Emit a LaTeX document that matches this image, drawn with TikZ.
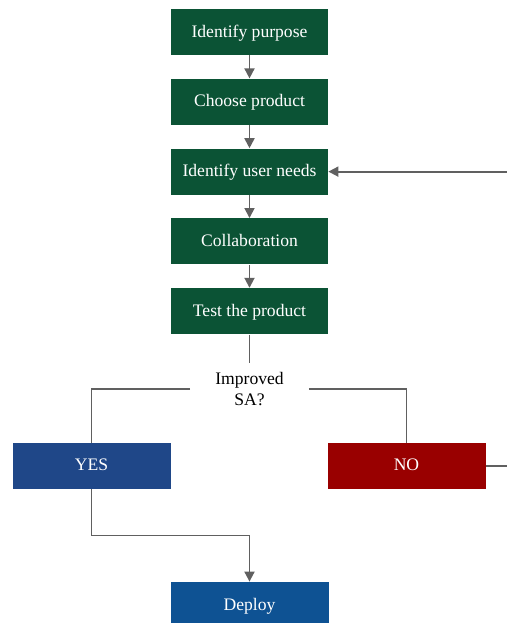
\documentclass[tikz,border=0pt]{standalone}
\usepackage{fontspec}
\setmainfont{Liberation Serif}
\usetikzlibrary{arrows.meta,positioning}
\definecolor{stepgreen}{HTML}{0B5335}
\definecolor{yesblue}{HTML}{1F4788}
\definecolor{nored}{HTML}{990000}
\definecolor{deployblue}{HTML}{0E5293}
\definecolor{linegrey}{HTML}{606060}

\begin{document}
\begin{tikzpicture}[x=0.5pt, y=-0.5pt,
      box/.style={fill=stepgreen, text=white, minimum width=78.5pt, minimum height=23pt,
                  inner sep=0pt, text depth=0.2ex, font=\fontsize{8.8}{10.5}\selectfont},
      answer/.style={box, minimum width=79pt},
      decision/.style={minimum width=59pt, minimum height=26pt, inner sep=0pt, align=center,
                       font=\fontsize{8.8}{10.5}\selectfont},
      arr/.style={-{Triangle[width=5pt,length=5pt]}, line width=0.9pt, linegrey},
      link/.style={line width=0.9pt, linegrey},
      node distance=11.5pt
    ]
      \useasboundingbox (0,0) rectangle (507,623);

      % Main chain
      \node[box] (purpose) at (249.5,32) {Identify purpose};
      \node[box, below=of purpose] (product) {Choose product};
      \node[box, below=of product] (needs) {Identify user needs};
      \node[box, below=of needs] (collab) {Collaboration};
      \node[box, below=of collab] (test) {Test the product};

      \draw[arr] (purpose) -- (product);
      \draw[arr] (product) -- (needs);
      \draw[arr] (needs) -- (collab);
      \draw[arr] (collab) -- (test);

      % Decision and answers
      \node[decision] (improved) at (249.5,389) {Improved\\SA?};
      \node[answer, fill=yesblue] (yes) at (91.5,466) {YES};
      \node[answer, fill=nored] (no) at (406.5,466) {NO};
      \node[answer, fill=deployblue] (deploy) at (249.5,605) {Deploy};

      \draw[link] (test) -- (improved);
      \draw[link] (improved.west) -| (yes.north);
      \draw[link] (improved.east) -| (no.north);
      \draw[arr] (yes.south) -- ++(0,46) -| (deploy.north);

      % Loop back (runs off the right edge)
      \coordinate (loopR) at (540,466);
      \draw[arr] (no.east) -- (loopR) |- (needs.east);
    \end{tikzpicture}
\end{document}
